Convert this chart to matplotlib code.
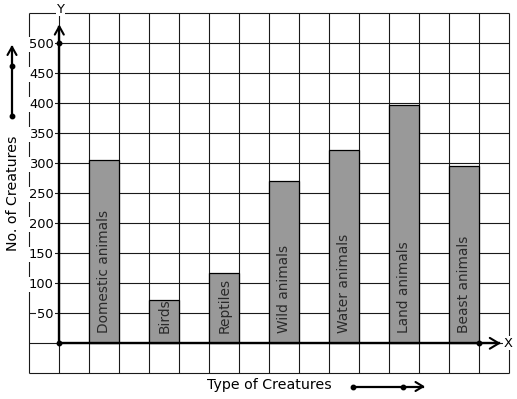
import matplotlib
matplotlib.use("Agg")
import matplotlib.pyplot as plt
import numpy as np

categories = ["Domestic animals", "Birds", "Reptiles", "Wild animals",
              "Water animals", "Land animals", "Beast animals"]
values = [306, 72, 117, 270, 323, 397, 296]
y_ticks = [50, 100, 150, 200, 250, 300, 350, 400, 450, 500]
x_title = "Type of Creatures"
y_title = "No. of Creatures"

plt.rcParams['font.family'] = ['DejaVu Sans']
FS_BAR = 9.9
FS_TITLE = 10.2
FS_TICK = 9.4

W, H = 517, 399
fig = plt.figure(figsize=(W / 100, H / 100), dpi=100)

# main axes: x -1..15 (30 px per unit), y -50..550 (30 px per 50)
left_px, right_px, top_px, bot_px = 29.3, 509.3, 13.3, 373.3
ax = fig.add_axes([left_px / W, (H - bot_px) / H,
                   (right_px - left_px) / W, (bot_px - top_px) / H])
ax.set_xlim(-1, 15)
ax.set_ylim(-50, 550)
ax.patch.set_alpha(0)

grid_c = '#1a1a1a'
grid_lw = 0.8
ax.hlines(np.arange(-50, 551, 50), -1, 15, colors=grid_c, lw=grid_lw, zorder=0.5, clip_on=False)
ax.vlines(np.arange(-1, 16, 1), -50, 550, colors=grid_c, lw=grid_lw, zorder=0.5, clip_on=False)

xpos = [1.5 + 2 * i for i in range(len(categories))]
ax.bar(xpos, values, width=1.0, color='#999999', edgecolor='#000000',
       linewidth=0.9, zorder=1)
for x, c in zip(xpos, categories):
    ax.text(x, 17, c, rotation=90, ha='center', va='bottom', fontsize=FS_BAR,
            color='#2a2a2a', zorder=3)

# axes spines through the origin
for s in ['top', 'right']:
    ax.spines[s].set_visible(False)
ax.spines['left'].set_position(('data', 0))
ax.spines['bottom'].set_position(('data', 0))
ax.spines['left'].set_bounds(0, 528)
ax.spines['bottom'].set_bounds(0, 14.65)
for s in ['left', 'bottom']:
    ax.spines[s].set_linewidth(1.7)
    ax.spines[s].set_color('black')
ax.set_xticks([])
ax.set_yticks(y_ticks)
ax.set_yticklabels([str(v) for v in y_ticks])
ax.tick_params(axis='y', length=0, pad=4, labelsize=FS_TICK, labelcolor='black')
for t in ax.get_yticklabels():
    t.set_bbox(dict(facecolor='white', edgecolor='none', pad=0.8))

# arrowheads and dots on axes
ax.plot([-0.15, 0, 0.15], [528 - 13.5, 528, 528 - 13.5], color='black', lw=1.5,
        clip_on=False, zorder=4, solid_capstyle='round')
ax.plot([14.65 - 0.3, 14.65, 14.65 - 0.3], [-9, 0, 9], color='black', lw=1.5,
        clip_on=False, zorder=4, solid_capstyle='round')
ax.plot([0, 0, 14], [0, 500, 0], 'o', color='black', ms=3.2, zorder=5, clip_on=False)
ax.text(0.05, 557, 'Y', ha='center', va='center', fontsize=FS_TICK, zorder=5,
        bbox=dict(facecolor='white', edgecolor='none', pad=0.5))
ax.text(14.97, 0, 'X', ha='center', va='center', fontsize=FS_TICK, zorder=5,
        bbox=dict(facecolor='white', edgecolor='none', pad=0.5))

# overlay in pixel coordinates for axis titles and direction arrows
ov = fig.add_axes([0, 0, 1, 1])
ov.set_xlim(0, W)
ov.set_ylim(H, 0)
ov.axis('off')
ov.patch.set_alpha(0)

ov.text(13, 193, y_title, rotation=90, ha='center', va='center', fontsize=FS_TITLE)
ov.text(269, 385, x_title, ha='center', va='center', fontsize=FS_TITLE)

# vertical arrow (left)
ov.plot([12, 12], [116, 47], color='black', lw=1.6)
ov.plot([7.5, 12, 16.5], [55, 47, 55], color='black', lw=1.5, solid_capstyle='round')
ov.plot([12, 12], [116, 66], 'o', color='black', ms=3.2)
# horizontal arrow (bottom)
ov.plot([353, 423], [386.5, 386.5], color='black', lw=1.6)
ov.plot([415.5, 423, 415.5], [382, 386.5, 391], color='black', lw=1.5, solid_capstyle='round')
ov.plot([353, 403], [386.5, 386.5], 'o', color='black', ms=3.2)

fig.savefig('out.png', dpi=100)
